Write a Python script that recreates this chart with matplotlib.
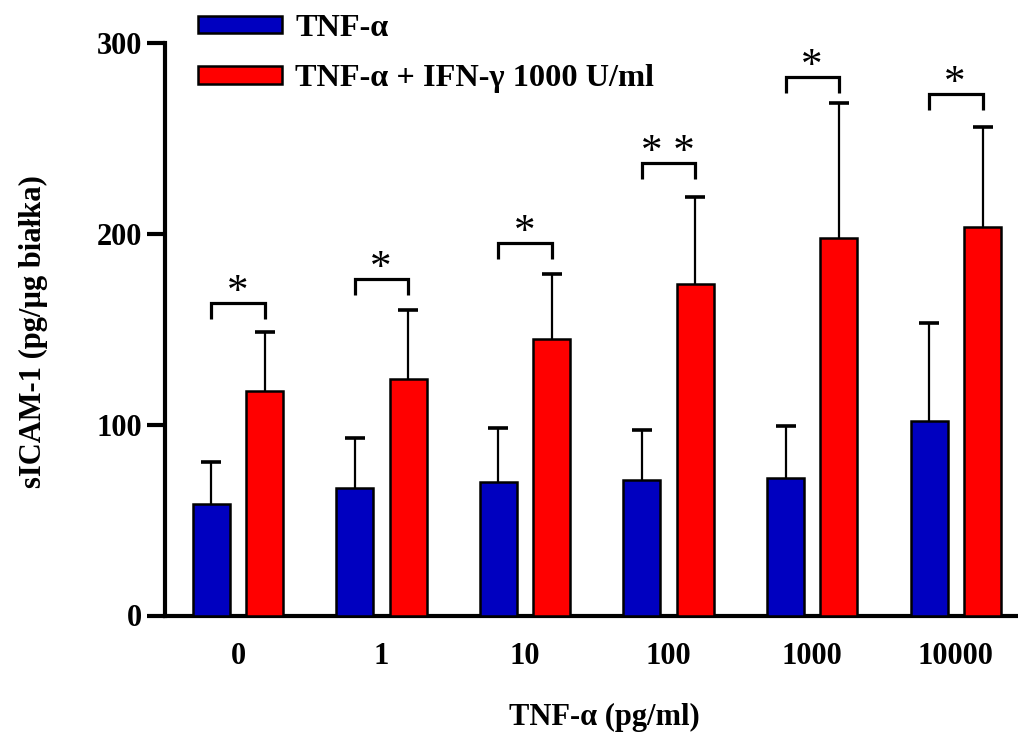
import matplotlib
matplotlib.use("Agg")
import matplotlib.pyplot as plt
import numpy as np
from matplotlib.patches import Patch

categories = ["0", "1", "10", "100", "1000", "10000"]
tnf_mean = [58.4, 66.8, 70.0, 71.0, 72.0, 102.0]
tnf_err = [22.1, 26.2, 28.2, 26.2, 27.3, 51.3]
combo_mean = [117.5, 124.0, 144.9, 173.7, 197.7, 203.8]
combo_err = [30.8, 36.1, 34.1, 45.5, 70.7, 52.4]
bracket_top = [163.9, 176.5, 195.2, 237.0, 282.4, 273.3]
stars = ["*", "*", "*", "* *", "*", "*"]
y_ticks = [0, 100, 200, 300]

BLUE = "#0000C0"
RED = "#FF0000"
SERIF = ["Liberation Serif", "DejaVu Serif"]

fig = plt.figure(figsize=(10.18, 7.36), dpi=100)
ax = fig.add_axes([165/1018, 1-615.5/736, 1-165/1018, (615.5-43)/736])

x = np.arange(len(categories))
off = 0.186
w = 0.258
eb = dict(elinewidth=1.6, capthick=2.6, ecolor="black", capsize=7.5)
for pos, mean, err, col in [(x - off, tnf_mean, tnf_err, BLUE),
                            (x + off, combo_mean, combo_err, RED)]:
    cont = ax.bar(pos, mean, w, color=col, edgecolor="black", linewidth=1.8,
                  yerr=[np.zeros(len(x)), err], error_kw=eb, zorder=3)
    caps = cont.errorbar.lines[1]
    for cl in caps:
        yd = np.asarray(cl.get_ydata(), dtype=float)
        if np.allclose(yd, np.asarray(mean, dtype=float)):
            cl.set_visible(False)

leg = 8.5
for i in range(len(x)):
    t = bracket_top[i]
    ax.plot([x[i]-off, x[i]-off, x[i]+off, x[i]+off], [t-leg, t, t, t-leg],
            color="black", lw=2.3, solid_capstyle="butt", solid_joinstyle="miter",
            clip_on=False, zorder=4)
    ax.annotate(stars[i], xy=(x[i], t), xytext=(-0.5, 0), textcoords="offset points",
                ha="center", va="baseline", fontsize=31, family=SERIF,
                annotation_clip=False)

ax.set_xlim(-0.508, 5.433)
ax.set_ylim(0, 300)
ax.set_yticks(y_ticks)
ax.set_xticks(x)
ax.set_xticklabels(categories)
for s in ["top", "right"]:
    ax.spines[s].set_visible(False)
for s in ["left", "bottom"]:
    ax.spines[s].set_linewidth(3.0)
ax.tick_params(axis="y", direction="out", length=13, width=3.0, pad=3.5)
ax.tick_params(axis="x", length=0, pad=19)
for lab in ax.get_xticklabels() + ax.get_yticklabels():
    lab.set_fontfamily(SERIF)
    lab.set_fontweight("bold")
    lab.set_fontsize(22)

fig.text(33/1018, 1-332/736, "sICAM-1 (pg/µg białka)", rotation=90, ha="center",
         va="center", fontsize=22, fontweight="bold", family=SERIF)
fig.text(604/1018, 1-717/736, "TNF-α (pg/ml)", ha="center", va="center",
         fontsize=22, fontweight="bold", family=SERIF)

handles = [Patch(facecolor=BLUE, edgecolor="black", linewidth=1.8),
           Patch(facecolor=RED, edgecolor="black", linewidth=1.8)]
fig.legend(handles, ["TNF-α", "TNF-α + IFN-γ 1000 U/ml"], loc="upper left",
           bbox_to_anchor=(198/1018, 1-14/736), frameon=False,
           prop=dict(family=SERIF, weight="bold", size=23.3),
           handlelength=2.6, handleheight=0.46, handletextpad=0.4,
           labelspacing=0.66, borderaxespad=0.0, borderpad=0.0)

fig.savefig("out.png", dpi=100)
